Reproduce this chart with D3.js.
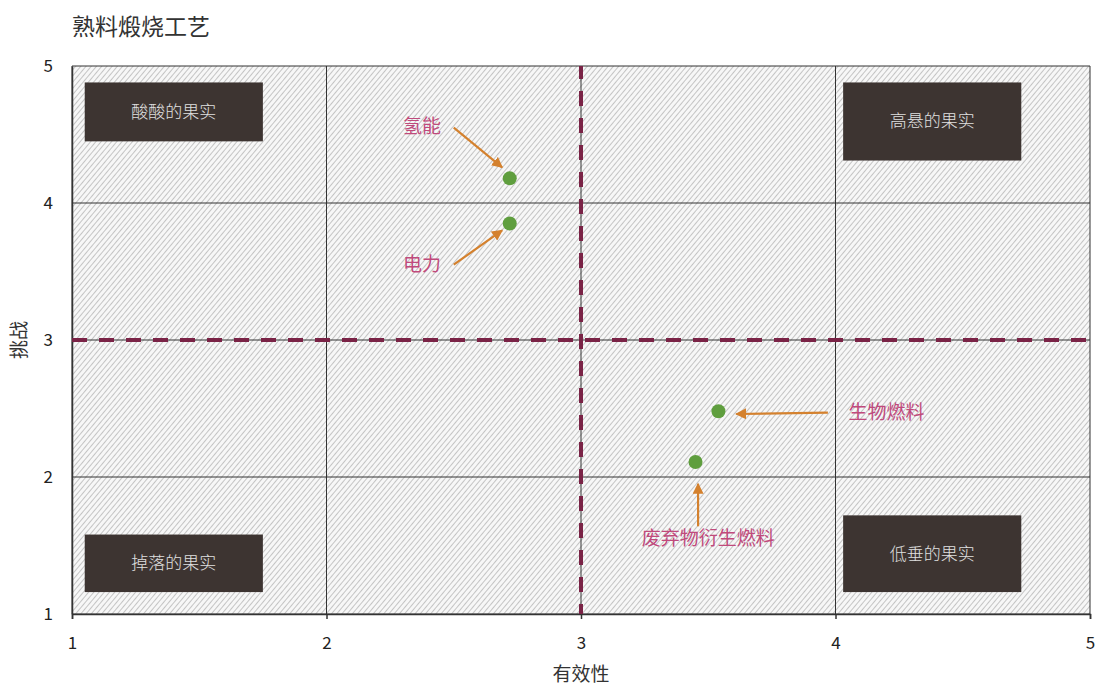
<!DOCTYPE html>
<meta charset="utf-8">
<head>
	<script type="text/javascript" src="https://cdn.jsdelivr.net/npm/d3@7"></script>
	<style>
		body { margin: 0; background: #fff; }
		text { font-family: "Noto Sans CJK SC", "Noto Sans", sans-serif; }
	</style>
</head>
<body>
	<svg id="chart" width="1097" height="687"></svg>
</body>
<script type="text/javascript">
	// data
	var names = ["氢能", "电力", "生物燃料", "废弃物衍生燃料"];
	var effect = [2.72, 2.72, 3.54, 3.45];
	var challenge = [4.18, 3.85, 2.48, 2.11];
	// label position and arrow start/end (data units)
	var labelX = [2.45, 2.45, 4.2, 3.5];
	var labelY = [4.56, 3.55, 2.47, 1.55];
	var arrowFrom = [[2.5, 4.55], [2.5, 3.55], [3.97, 2.47], [3.46, 1.64]];
	var arrowTo = [[2.69, 4.26], [2.69, 3.8], [3.61, 2.46], [3.46, 1.95]];

	var quadrants = ["酸酸的果实", "高悬的果实", "掉落的果实", "低垂的果实"];
	// box corners in data units: x0, x1, y0, y1
	var quadBoxes = [[1.05, 1.75, 4.88, 4.45], [4.03, 4.73, 4.88, 4.31], [1.05, 1.75, 1.58, 1.16], [4.03, 4.73, 1.72, 1.16]];

	var ticks = [1, 2, 3, 4, 5];

	var svg = d3.select("#chart");
	var margin = {left: 72, right: 7, top: 66, bottom: 73};
	var W = 1097, H = 687;

	var x = d3.scaleLinear().domain([1, 5]).range([margin.left, W - margin.right]);
	var y = d3.scaleLinear().domain([1, 5]).range([H - margin.bottom, margin.top]);

	var defs = svg.append("defs");
	var pat = defs.append("pattern")
		.attr("id", "hatch")
		.attr("patternUnits", "userSpaceOnUse")
		.attr("width", 4).attr("height", 4)
		.attr("patternTransform", "rotate(-50)");
	pat.append("rect").attr("width", 4).attr("height", 4).attr("fill", "#f7f7f7");
	pat.append("line").attr("x1", 0).attr("y1", 0).attr("x2", 4).attr("y2", 0)
		.attr("stroke", "#b8b8b8").attr("stroke-width", 1.6);

	var marker = defs.append("marker")
		.attr("id", "arrow")
		.attr("viewBox", "0 0 10 10")
		.attr("refX", 9).attr("refY", 5)
		.attr("markerWidth", 5).attr("markerHeight", 5)
		.attr("orient", "auto");
	marker.append("path").attr("d", "M0,0 L10,5 L0,10 z").attr("fill", "#d4812e");

	// title
	svg.append("text").attr("x", 72).attr("y", 35)
		.attr("font-size", 23).attr("fill", "#333").text("熟料煅烧工艺");

	// plot background
	svg.append("rect")
		.attr("x", x(1)).attr("y", y(5))
		.attr("width", x(5) - x(1)).attr("height", y(1) - y(5))
		.attr("fill", "url(#hatch)");

	// grid
	svg.append("g").selectAll("line").data(ticks).join("line")
		.attr("x1", d => x(d)).attr("x2", d => x(d))
		.attr("y1", y(5)).attr("y2", y(1))
		.attr("stroke", "#333").attr("stroke-width", 1);
	svg.append("g").selectAll("line").data(ticks).join("line")
		.attr("y1", d => y(d)).attr("y2", d => y(d))
		.attr("x1", x(1)).attr("x2", x(5))
		.attr("stroke", "#333").attr("stroke-width", 1);

	// axes
	var xAxis = svg.append("g")
		.attr("transform", "translate(0," + y(1) + ")")
		.call(d3.axisBottom(x).tickValues(ticks).tickFormat(d3.format("d")).tickSize(5).tickPadding(18));
	var yAxis = svg.append("g")
		.attr("transform", "translate(" + x(1) + ",0)")
		.call(d3.axisLeft(y).tickValues(ticks).tickFormat(d3.format("d")).tickSize(0).tickPadding(19));
	[xAxis, yAxis].forEach(function(a) {
		a.select(".domain").attr("stroke", "#333").attr("stroke-width", 1.5);
		a.selectAll(".tick line").attr("stroke", "#333").attr("stroke-width", 1.5);
		a.selectAll(".tick text").attr("font-size", 17).attr("fill", "#222")
			.attr("font-family", "Open Sans, Liberation Sans, sans-serif");
	});

	// quadrant dividers
	svg.append("line")
		.attr("x1", x(1)).attr("x2", x(5)).attr("y1", y(3)).attr("y2", y(3))
		.attr("stroke", "#7a2346").attr("stroke-width", 4).attr("stroke-dasharray", "15,12");
	svg.append("line")
		.attr("x1", x(3)).attr("x2", x(3)).attr("y1", y(5)).attr("y2", y(1))
		.attr("stroke", "#7a2346").attr("stroke-width", 4).attr("stroke-dasharray", "15,12")
		.attr("stroke-dashoffset", 2);

	// quadrant boxes
	var qb = svg.append("g").selectAll("g").data(quadrants).join("g");
	qb.append("rect")
		.attr("x", (d, i) => x(quadBoxes[i][0]))
		.attr("y", (d, i) => y(quadBoxes[i][2]))
		.attr("width", (d, i) => x(quadBoxes[i][1]) - x(quadBoxes[i][0]))
		.attr("height", (d, i) => y(quadBoxes[i][3]) - y(quadBoxes[i][2]))
		.attr("fill", "#3d3431");
	qb.append("text")
		.attr("x", (d, i) => (x(quadBoxes[i][0]) + x(quadBoxes[i][1])) / 2)
		.attr("y", (d, i) => (y(quadBoxes[i][2]) + y(quadBoxes[i][3])) / 2)
		.attr("dy", "0.35em").attr("text-anchor", "middle")
		.attr("font-size", 17).attr("font-weight", 300).attr("fill", "#e0e0e0")
		.text(d => d);

	// arrows
	svg.append("g").selectAll("line").data(names).join("line")
		.attr("x1", (d, i) => x(arrowFrom[i][0])).attr("y1", (d, i) => y(arrowFrom[i][1]))
		.attr("x2", (d, i) => x(arrowTo[i][0])).attr("y2", (d, i) => y(arrowTo[i][1]))
		.attr("stroke", "#d4812e").attr("stroke-width", 2.2)
		.attr("marker-end", "url(#arrow)");

	// points
	svg.append("g").selectAll("circle").data(names).join("circle")
		.attr("cx", (d, i) => x(effect[i])).attr("cy", (d, i) => y(challenge[i]))
		.attr("r", 7).attr("fill", "#5f9e3e");

	// point labels
	svg.append("g").selectAll("text").data(names).join("text")
		.attr("x", (d, i) => x(labelX[i])).attr("y", (d, i) => y(labelY[i]))
		.attr("dy", "0.35em")
		.attr("text-anchor", (d, i) => i < 2 ? "end" : "middle")
		.attr("font-size", 19).attr("fill", "#c04a7c")
		.text(d => d);

	// axis titles
	svg.append("text").attr("x", x(3)).attr("y", 681)
		.attr("text-anchor", "middle").attr("font-size", 19).attr("fill", "#333").text("有效性");
	svg.append("text").attr("transform", "translate(26," + y(3) + ") rotate(-90)")
		.attr("text-anchor", "middle").attr("font-size", 19).attr("fill", "#333").text("挑战");
</script>
